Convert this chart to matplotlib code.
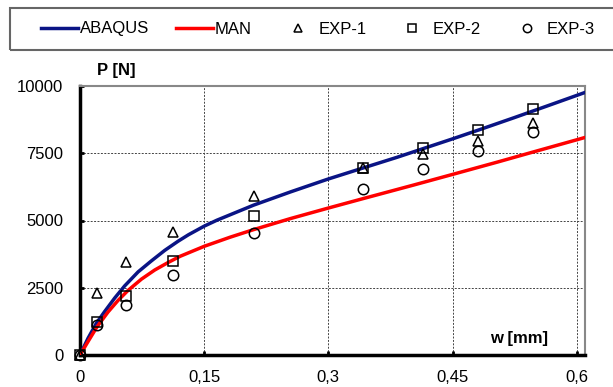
import matplotlib.pyplot as plt
from matplotlib.patches import Rectangle

plt.rcParams['font.family'] = ['Liberation Sans', 'DejaVu Sans']

# curves
w_abaqus = [0, 0.0097, 0.0198, 0.0298, 0.042, 0.054, 0.0702, 0.0863, 0.1024,
            0.1185, 0.131, 0.15, 0.1653, 0.2096, 0.254, 0.2996, 0.3427, 0.383,
            0.4133, 0.4496, 0.4839, 0.5242, 0.5645, 0.6, 0.6109]
p_abaqus = [0, 622, 1180, 1616, 2120, 2570, 3090, 3500, 3890,
            4230, 4470, 4790, 5010, 5570, 6060, 6540, 6960, 7350,
            7660, 8030, 8390, 8820, 9260, 9650, 9770]
w_man = [0, 0.0097, 0.0206, 0.0339, 0.046, 0.058, 0.0742, 0.0903, 0.1065,
         0.121, 0.15, 0.1814, 0.2096, 0.254, 0.2996, 0.3427, 0.4032, 0.4496,
         0.504, 0.5443, 0.6, 0.6109]
p_man = [0, 500, 1050, 1600, 2030, 2400, 2820, 3160, 3440,
         3670, 4040, 4380, 4660, 5070, 5460, 5820, 6320, 6710,
         7170, 7520, 8000, 8095]

# experimental points
w_exp = [0, 0.02, 0.055, 0.112, 0.21, 0.342, 0.414, 0.481, 0.547]
p_exp1 = [0, 2310, 3440, 4590, 5900, 6960, 7460, 7955, 8610]
p_exp2 = [0, 1210, 2200, 3510, 5160, 6950, 7690, 8370, 9160]
p_exp3 = [0, 1120, 1870, 2990, 4540, 6185, 6925, 7580, 8300]

x_ticks = [0, 0.15, 0.3, 0.45, 0.6]
x_ticklabels = ['0', '0,15', '0,3', '0,45', '0,6']
y_ticks = [0, 2500, 5000, 7500, 10000]

fig = plt.figure(figsize=(6.13, 3.87), dpi=100)
ax = fig.add_axes([80 / 613, 1 - 355 / 387, 505 / 613, 269 / 387])

ax.plot(w_abaqus, p_abaqus, color='#0a1485', lw=2.5, label='ABAQUS', zorder=3)
ax.plot(w_man, p_man, color='#ff0000', lw=2.5, label='MAN', zorder=3)
mk = dict(ls='none', mfc='none', mec='black', mew=1.1, ms=7.5, clip_on=False, zorder=4)
ax.plot(w_exp, p_exp1, marker='^', label='EXP-1', **mk)
ax.plot(w_exp, p_exp2, marker='s', label='EXP-2', **mk)
ax.plot(w_exp, p_exp3, marker='o', label='EXP-3', **mk)

ax.set_xlim(0, 0.61)
ax.set_ylim(0, 10000)
ax.set_xticks(x_ticks)
ax.set_xticklabels(x_ticklabels)
ax.set_yticks(y_ticks)
ax.tick_params(direction='in', length=3, width=2, labelsize=12)
ax.tick_params(axis='x', pad=11)
ax.tick_params(axis='y', pad=12)
ax.grid(True, ls=(0, (2, 1.5)), lw=0.7, color='#444444')

for s in ['left', 'bottom']:
    ax.spines[s].set_linewidth(2.5)
    ax.spines[s].set_color('black')
for s in ['top', 'right']:
    ax.spines[s].set_linewidth(1.5)
    ax.spines[s].set_color('#888888')

fig.text(97 / 613, 1 - 70 / 387, 'P [N]', fontsize=12, fontweight='bold', va='center', ha='left')
ax.text(0.565, 600, 'w [mm]', fontsize=12, fontweight='bold', ha='right', va='center')

# legend frame spanning the top
fig.patches.append(Rectangle((10 / 613, 1 - 50 / 387), 0.99, 42 / 387,
                             transform=fig.transFigure, fill=False,
                             ec='#666666', lw=1.5))
handles, labels = ax.get_legend_handles_labels()
fig.legend(handles, labels, ncol=5, loc='center left',
           bbox_to_anchor=(41 / 613, 1 - 29 / 387), frameon=False,
           fontsize=12, handlelength=2.2, handletextpad=0.12,
           columnspacing=1.65, borderpad=0, borderaxespad=0, markerscale=0.8)

fig.savefig('out.png', dpi=100)
